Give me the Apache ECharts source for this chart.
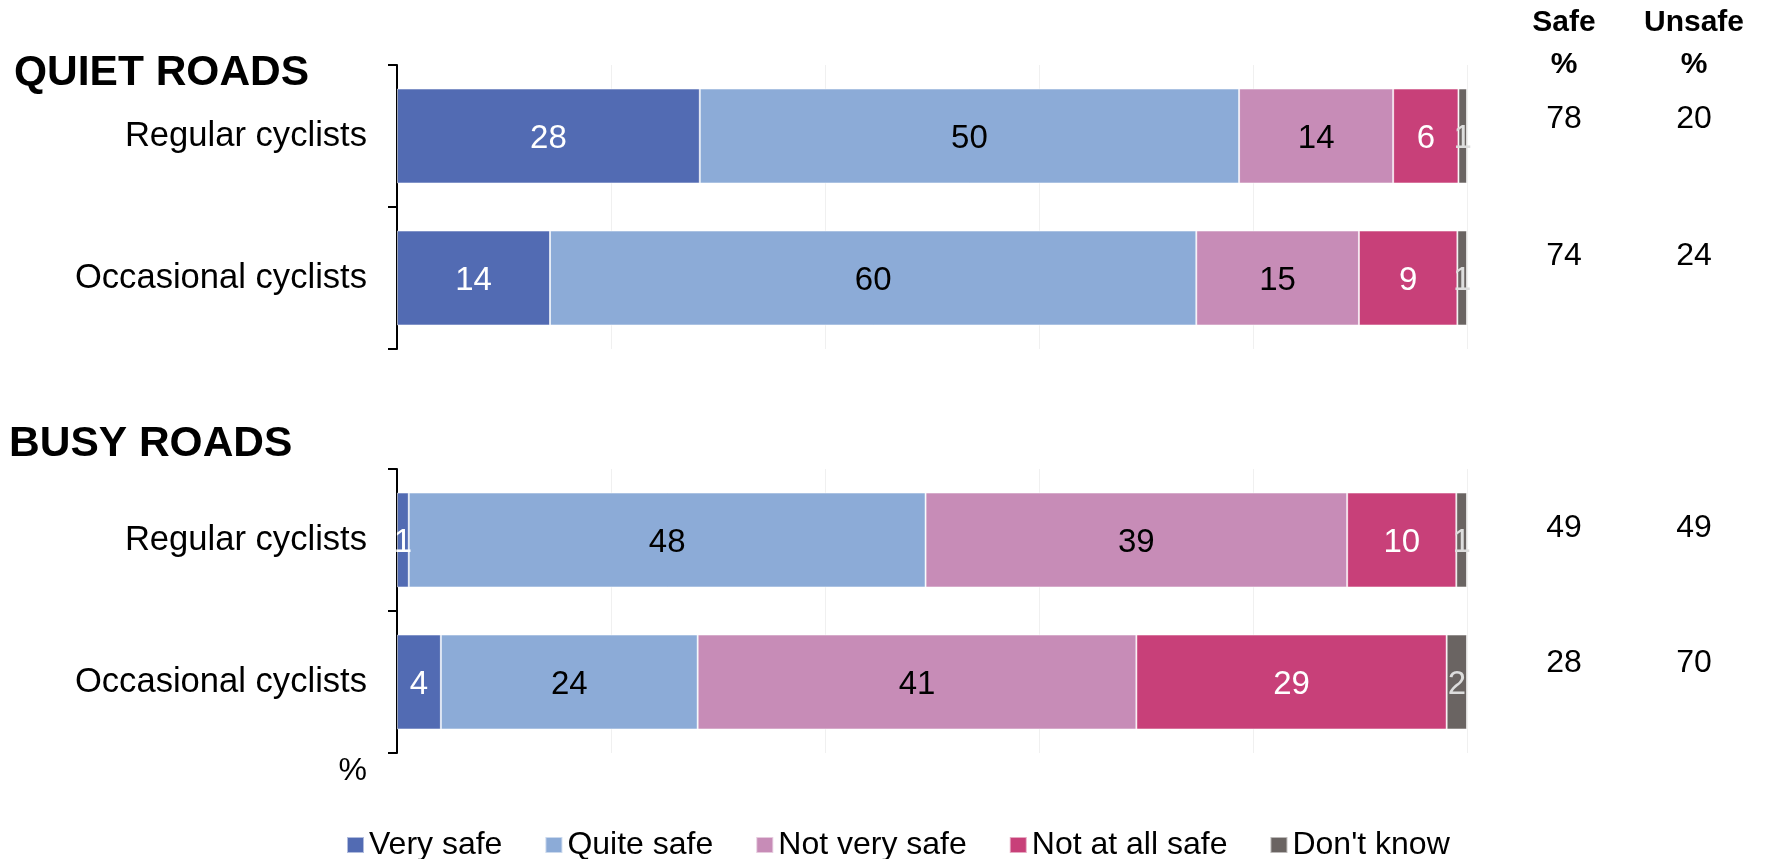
<!DOCTYPE html>
<html>
<head>
<meta charset="utf-8">
<script src="https://cdn.jsdelivr.net/npm/echarts@6/dist/echarts.min.js"></script>
<style>
html,body{margin:0;padding:0;background:#fff;}
#chart{width:1765px;height:859px;}
</style>
</head>
<body>
<div id="chart"></div>
<script>
const categories = ['Regular cyclists', 'Occasional cyclists'];
const responses = ['Very safe', 'Quite safe', 'Not very safe', 'Not at all safe', "Don't know"];
// rows: [Regular, Occasional] for each response, in %
const quietVerySafe = [28.3, 14.3];
const quietQuiteSafe = [50.4, 60.4];
const quietNotVerySafe = [14.4, 15.2];
const quietNotAtAllSafe = [6.1, 9.2];
const quietDontKnow = [0.8, 0.9];
const busyVerySafe = [1.1, 4.1];
const busyQuiteSafe = [48.3, 24.0];
const busyNotVerySafe = [39.4, 41.0];
const busyNotAtAllSafe = [10.2, 29.0];
const busyDontKnow = [1.0, 1.9];
const summaryHeaders = ['Safe\n%', 'Unsafe\n%'];
const quietSafe = [78, 74];
const quietUnsafe = [20, 24];
const busySafe = [49, 28];
const busyUnsafe = [49, 70];
const groupTitles = ['QUIET ROADS', 'BUSY ROADS'];

const FONT = '"Liberation Sans", Arial, sans-serif';
const colors = ['#526bb3', '#8cabd7', '#c78cb7', '#c84079', '#6a6462'];
const labelColors = ['#ffffff', '#000000', '#000000', '#ffffff', '#dddddd'];

const quietData = [quietVerySafe, quietQuiteSafe, quietNotVerySafe, quietNotAtAllSafe, quietDontKnow];
const busyData = [busyVerySafe, busyQuiteSafe, busyNotVerySafe, busyNotAtAllSafe, busyDontKnow];

const chart = echarts.init(document.getElementById('chart'), null, {renderer: 'canvas'});

const grids = [
  {left: 397, width: 1070, top: 65, height: 284},
  {left: 397, width: 1070, top: 469, height: 284},
  {left: 1499, width: 260, top: 67.5, height: 274},
  {left: 1499, width: 260, top: 472.5, height: 270}
];

function valueXAxis(gi) {
  return {
    type: 'value', gridIndex: gi, min: 0, max: 100, interval: 20,
    axisLine: {show: false}, axisTick: {show: false}, axisLabel: {show: false},
    splitLine: {show: true, lineStyle: {color: '#f0f0f0', width: 1}}
  };
}
function catYAxis(gi, show) {
  return {
    type: 'category', gridIndex: gi, data: categories, inverse: true,
    show: show,
    axisLine: {show: true, lineStyle: {color: '#000', width: 2}},
    axisTick: {show: true, length: 9, lineStyle: {color: '#000', width: 2}},
    axisLabel: {fontFamily: FONT, fontSize: 34.6, color: '#000', margin: 30, padding: [7, 0, 0, 0]},
    splitLine: {show: false}
  };
}

const xAxes = [
  valueXAxis(0), valueXAxis(1),
  {
    type: 'category', gridIndex: 2, data: ['Safe', 'Unsafe'], position: 'top',
    axisLine: {show: false}, axisTick: {show: false}, splitLine: {show: false},
    axisLabel: {
      interval: 0,
      fontFamily: FONT, fontSize: 30, fontWeight: 'bold', color: '#000',
      lineHeight: 42, margin: -18,
      formatter: (v, i) => summaryHeaders[i]
    }
  },
  {type: 'category', gridIndex: 3, data: ['Safe', 'Unsafe'], show: false}
];
const yAxes = [catYAxis(0, true), catYAxis(1, true), catYAxis(2, false), catYAxis(3, false)];

const series = [];
[quietData, busyData].forEach((groupData, gi) => {
  groupData.forEach((vals, ri) => {
    series.push({
      name: responses[ri], type: 'bar', stack: 'g' + gi,
      xAxisIndex: gi, yAxisIndex: gi, barWidth: 95,
      data: vals,
      itemStyle: {color: colors[ri], borderColor: 'rgba(255,255,255,0.55)', borderWidth: 1},
      label: {
        show: true, position: 'inside', offset: [0, 3], fontFamily: FONT, fontSize: 33,
        color: labelColors[ri],
        formatter: p => String(Math.round(p.value))
      },
      emphasis: {disabled: true}
    });
  });
});

function summarySeries(gi, safeArr, unsafeArr, dy) {
  const data = [];
  categories.forEach((c, i) => {
    data.push(['Safe', c, safeArr[i]]);
    data.push(['Unsafe', c, unsafeArr[i]]);
  });
  return {
    type: 'scatter', xAxisIndex: gi, yAxisIndex: gi, symbolSize: 0,
    data: data,
    itemStyle: {opacity: 1},
    label: {
      show: true, position: 'inside', offset: [0, dy],
      fontFamily: FONT, fontSize: 32, color: '#000', opacity: 1,
      formatter: p => String(p.value[2])
    },
    emphasis: {disabled: true}, silent: true
  };
}
series.push(summarySeries(2, quietSafe, quietUnsafe, -17));
series.push(summarySeries(3, busySafe, busyUnsafe, -12));

chart.setOption({
  animation: false,
  backgroundColor: '#ffffff',
  grid: grids,
  xAxis: xAxes,
  yAxis: yAxes,
  legend: {
    data: responses, left: 341, top: 824,
    itemWidth: 17, itemHeight: 16, itemGap: 42,
    icon: 'rect',
    textStyle: {fontFamily: FONT, fontSize: 32, color: '#000'}
  },
  graphic: [
    {type: 'text', x: 14, y: 73, style: {text: groupTitles[0], font: 'bold 42.5px ' + FONT, fill: '#000', align: 'left', verticalAlign: 'middle'}},
    {type: 'text', x: 9, y: 444, style: {text: groupTitles[1], font: 'bold 42.5px ' + FONT, fill: '#000', align: 'left', verticalAlign: 'middle'}},
    {type: 'text', x: 367, y: 771, style: {text: '%', font: '32px ' + FONT, fill: '#000', align: 'right', verticalAlign: 'middle'}}
  ],
  series: series
});
</script>
</body>
</html>
